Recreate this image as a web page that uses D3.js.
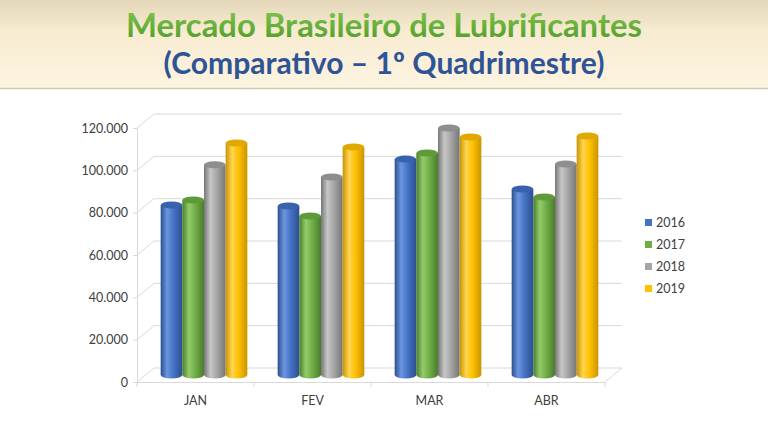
<!DOCTYPE html>
<html>
<head>
<meta charset="utf-8">
<script src="https://cdn.jsdelivr.net/npm/d3@7"></script>
<style>
html,body{margin:0;padding:0;background:#fff;}
svg{display:block;}
</style>
</head>
<body>
<svg id="chart" width="768" height="432"></svg>
<script>
// ---- data ----
const categories = ["JAN", "FEV", "MAR", "ABR"];
const seriesNames = ["2016", "2017", "2018", "2019"];
const values2016 = [80300, 79800, 102000, 87900];
const values2017 = [82700, 75100, 104900, 84100];
const values2018 = [99300, 93500, 116700, 99700];
const values2019 = [109600, 107700, 112400, 112900];
const yTicks = [0, 20000, 40000, 60000, 80000, 100000, 120000];
const titleLine1 = "Mercado Brasileiro de Lubrificantes";
const titleLine2 = "(Comparativo \u2013 1\u00BA Quadrimestre)";

const seriesValues = [values2016, values2017, values2018, values2019];
const colors = {
  "2016": {base:"#4472C4", dark:"#2c4f8f", light:"#6b96e0", top:"#3862ad"},
  "2017": {base:"#70AD47", dark:"#4a7d2c", light:"#93cc6a", top:"#5f9a3a"},
  "2018": {base:"#A5A5A5", dark:"#767676", light:"#c6c6c6", top:"#8e8e8e"},
  "2019": {base:"#FFC000", dark:"#c99400", light:"#ffd550", top:"#e0a800"}
};

const svg = d3.select("#chart");
const defs = svg.append("defs");

// ---- title band ----
const bg = defs.append("linearGradient").attr("id","bandGrad").attr("x1",0).attr("y1",0).attr("x2",0).attr("y2",1);
bg.append("stop").attr("offset","0").attr("stop-color","#e4d7b9");
bg.append("stop").attr("offset","0.35").attr("stop-color","#f7ebd0");
bg.append("stop").attr("offset","1").attr("stop-color","#fdf4e1");
svg.append("rect").attr("x",0).attr("y",0).attr("width",768).attr("height",88).attr("fill","url(#bandGrad)");
svg.append("line").attr("x1",0).attr("x2",768).attr("y1",88.5).attr("y2",88.5).attr("stroke","#cfcab8").attr("stroke-width",1.5);

const tg = defs.append("linearGradient").attr("id","titleGrad").attr("x1",0).attr("y1",0).attr("x2",0).attr("y2",1);
tg.append("stop").attr("offset","0").attr("stop-color","#86c94e");
tg.append("stop").attr("offset","1").attr("stop-color","#4c9a2a");

function fitText(sel, w){
  const len = sel.node().getComputedTextLength();
  if (len > 0) {
    const fs = parseFloat(sel.attr("font-size"));
    sel.attr("font-size", fs * w / len);
  }
}
const t1 = svg.append("text").attr("x",384).attr("y",37).attr("text-anchor","middle")
  .attr("font-family","Lato, 'Open Sans', sans-serif").attr("font-weight","bold").attr("font-size",31)
  .attr("fill","url(#titleGrad)").text(titleLine1);
fitText(t1, 516);
const t2 = svg.append("text").attr("x",384).attr("y",74).attr("text-anchor","middle")
  .attr("font-family","Lato, 'Open Sans', sans-serif").attr("font-weight","bold").attr("font-size",25)
  .attr("fill","#2f5496").text(titleLine2);
fitText(t2, 441);

// ---- scales ----
const x0 = d3.scaleBand().domain(categories).range([137, 605]).paddingInner(0).paddingOuter(0);
const x1 = d3.scaleBand().domain(seriesNames).range([0, x0.bandwidth()]).paddingInner(0).paddingOuter(0.7);
const y = d3.scaleLinear().domain([0, 120000]).range([382, 128]);
const depthX = 17, depthY = -14;

const gridColor = "#d9d9d9";
const grid = svg.append("g");
// back wall gridlines
grid.selectAll("line.h").data(yTicks).join("line")
  .attr("x1", 137 + depthX).attr("x2", 605 + depthX)
  .attr("y1", d => y(d) + depthY).attr("y2", d => y(d) + depthY)
  .attr("stroke", gridColor).attr("stroke-width",1);
// side wall diagonals
grid.selectAll("line.d").data(yTicks).join("line")
  .attr("x1", 137).attr("x2", 137 + depthX)
  .attr("y1", d => y(d)).attr("y2", d => y(d) + depthY)
  .attr("stroke", gridColor).attr("stroke-width",1);
// floor right edge
grid.append("line").attr("x1",605).attr("y1",y(0)).attr("x2",605+depthX).attr("y2",y(0)+depthY)
  .attr("stroke",gridColor);

// ---- axes ----
const yAxis = d3.axisLeft(y).tickValues(yTicks).tickSize(4).tickPadding(5)
  .tickFormat(d => d3.format(",")(d).replace(/,/g, "."));
const gy = svg.append("g").attr("transform","translate(137,0)").call(yAxis);
gy.select(".domain").attr("stroke", gridColor);
gy.selectAll(".tick line").attr("stroke", gridColor);
gy.selectAll(".tick text").attr("font-family","Lato, 'Open Sans', sans-serif").attr("font-size",12.5).attr("fill","#404040");

const xAxis = d3.axisBottom(x0).tickSize(0).tickPadding(14);
const gx = svg.append("g").attr("transform",`translate(0,${y(0)})`).call(xAxis);
gx.select(".domain").attr("stroke", gridColor);
gx.selectAll(".tick text").attr("font-family","Lato, 'Open Sans', sans-serif").attr("font-size",12.5).attr("fill","#404040");
// category separator ticks
svg.append("g").selectAll("line").data(categories.concat(["_end"])).join("line")
  .attr("x1", (d,i) => 137 + i * x0.step()).attr("x2", (d,i) => 137 + i * x0.step())
  .attr("y1", y(0)).attr("y2", y(0) + 5).attr("stroke", gridColor);

// ---- cylinder gradients ----
seriesNames.forEach(s => {
  const c = colors[s];
  const g = defs.append("linearGradient").attr("id","cyl"+s).attr("x1",0).attr("y1",0).attr("x2",1).attr("y2",0);
  g.append("stop").attr("offset","0").attr("stop-color",c.dark);
  g.append("stop").attr("offset","0.3").attr("stop-color",c.light);
  g.append("stop").attr("offset","0.6").attr("stop-color",c.base);
  g.append("stop").attr("offset","1").attr("stop-color",c.dark);
});

// ---- bars (cylinders) ----
const barData = [];
categories.forEach((cat, ci) => {
  seriesNames.forEach((s, si) => {
    barData.push({cat, s, v: seriesValues[si][ci]});
  });
});
const ry = 3.5;
const bars = svg.append("g").selectAll("g").data(barData).join("g")
  .attr("transform", `translate(${depthX/2},${depthY/2})`);
bars.append("path")
  .attr("d", d => {
    const xl = x0(d.cat) + x1(d.s), w = x1.bandwidth(), rx = w/2;
    const yt = y(d.v), yb = y(0);
    return `M${xl},${yt} L${xl},${yb} A${rx},${ry} 0 0 0 ${xl+w},${yb} L${xl+w},${yt} Z`;
  })
  .attr("fill", d => `url(#cyl${d.s})`);
bars.append("ellipse")
  .attr("cx", d => x0(d.cat) + x1(d.s) + x1.bandwidth()/2)
  .attr("cy", d => y(d.v))
  .attr("rx", x1.bandwidth()/2).attr("ry", ry)
  .attr("fill", d => colors[d.s].top);

// ---- legend ----
const legend = svg.append("g").selectAll("g").data(seriesNames).join("g")
  .attr("transform", (d,i) => `translate(645,${223 + i*22})`);
legend.append("rect").attr("x",0).attr("y",-4).attr("width",7).attr("height",7)
  .attr("fill", d => colors[d].base);
legend.append("text").attr("x",11).attr("y",0).attr("dy","0.35em")
  .attr("font-family","Lato, 'Open Sans', sans-serif").attr("font-size",12.5).attr("fill","#404040")
  .text(d => d);
</script>
</body>
</html>
